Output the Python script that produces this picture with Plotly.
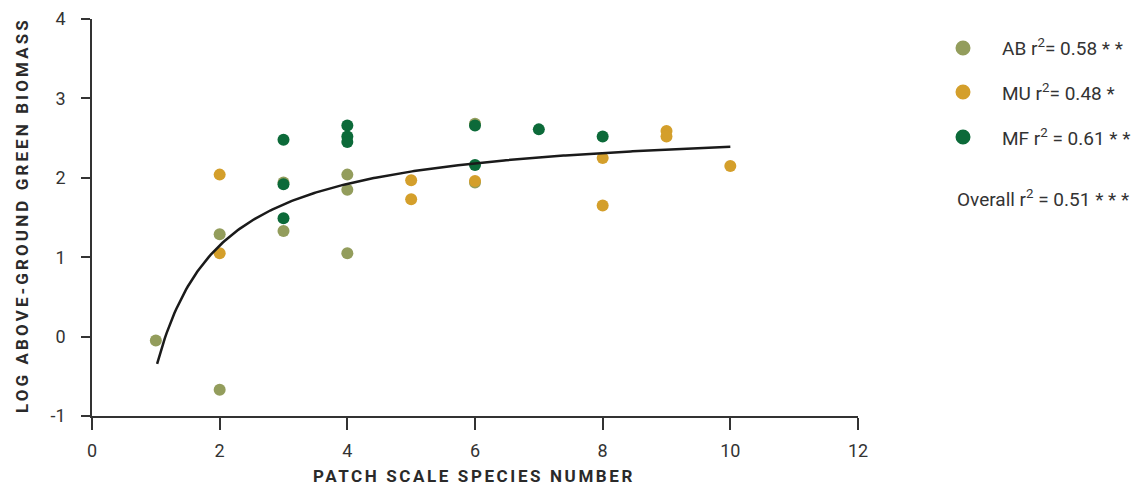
import numpy as np
import plotly.graph_objects as go

# ---- data ----
AB_x = [1, 2, 2, 3, 3, 4, 4, 4, 6, 6]
AB_y = [-0.05, 1.29, -0.67, 1.94, 1.33, 2.04, 1.85, 1.05, 2.68, 1.94]

MU_x = [2, 2, 5, 5, 6, 8, 8, 9, 9, 10]
MU_y = [2.04, 1.05, 1.97, 1.73, 1.96, 2.25, 1.65, 2.59, 2.52, 2.15]

MF_x = [3, 3, 3, 4, 4, 4, 6, 6, 7, 8]
MF_y = [2.48, 1.92, 1.49, 2.66, 2.52, 2.45, 2.66, 2.16, 2.61, 2.52]

# overall fitted curve  y = a - b / x  (coefficients read from the drawn fit)
FIT_A = 2.70
FIT_B = 3.105
FIT_XMIN, FIT_XMAX = 1.02, 10.0

SERIES = ["AB", "MU", "MF"]
R2_LABELS = ["AB r<sup>2</sup>= 0.58 * *", "MU r<sup>2</sup>= 0.48 *", "MF r<sup>2</sup> = 0.61 * *"]
OVERALL_LABEL = "Overall r<sup>2</sup> = 0.51 * * *"

X_TICKS = [0, 2, 4, 6, 8, 10, 12]
X_TICK_LABELS = ["0", "2", "4", "6", "8", "10", "12"]
Y_TICKS = [-1, 0, 1, 2, 3, 4]
Y_TICK_LABELS = ["-1", "0", "1", "2", "3", "4"]

COLORS = {"AB": "#939d5c", "MU": "#d49f2b", "MF": "#0c6a39"}

FONT = "Roboto, 'Open Sans', sans-serif"
TXT = "#333333"

fig = go.Figure()
for name, xs, ys in [("AB", AB_x, AB_y), ("MU", MU_x, MU_y), ("MF", MF_x, MF_y)]:
    fig.add_trace(go.Scatter(x=xs, y=ys, mode="markers", name=name,
                             marker=dict(size=12, color=COLORS[name], line=dict(width=0)),
                             showlegend=False))

fx = np.linspace(FIT_XMIN, FIT_XMAX, 300)
fy = FIT_A - FIT_B / fx
fig.add_trace(go.Scatter(x=fx, y=fy, mode="lines", name="Overall fit",
                         line=dict(color="#1a1a1a", width=2.5), showlegend=False))

# plot area in pixels
L, R, T, B = 92, 858, 19, 416
W, H = 1136, 485

def px(xp):
    return (xp - L) / (R - L)

def py(yp):
    return (B - yp) / (B - T)

fig.update_layout(
    width=W, height=H,
    margin=dict(l=L, r=W - R, t=T, b=H - B, pad=0),
    plot_bgcolor="white", paper_bgcolor="white",
    font=dict(family=FONT, color=TXT, size=17),
    xaxis=dict(range=[0, 12], tickvals=X_TICKS, ticktext=X_TICK_LABELS,
               showgrid=False, zeroline=False,
               showline=True, linecolor="#333333", linewidth=1.5, automargin=False,
               ticks="outside", ticklen=12, tickwidth=1.5, tickcolor="#333333",
               tickfont=dict(size=18, color=TXT, family=FONT), ticklabelstandoff=6),
    yaxis=dict(range=[-1, 4], tickvals=Y_TICKS, ticktext=Y_TICK_LABELS,
               showgrid=False, zeroline=False,
               showline=True, linecolor="#333333", linewidth=1.5, automargin=False,
               ticks="outside", ticklen=9, tickwidth=1.5, tickcolor="#333333",
               tickfont=dict(size=18, color=TXT, family=FONT), ticklabelstandoff=12),
)

annotations = [
    dict(text="<span style='letter-spacing:2.6px'><b>PATCH SCALE SPECIES NUMBER</b></span>",
         xref="paper", yref="paper", x=px(474), y=py(476), xanchor="center", yanchor="middle",
         showarrow=False, borderpad=0, font=dict(size=17, color="#2a2a2a", family=FONT)),
    dict(text="<span style='letter-spacing:3.1px'><b>LOG ABOVE-GROUND GREEN BIOMASS</b></span>",
         xref="paper", yref="paper", x=px(22), y=py(215), xanchor="center", yanchor="middle",
         textangle=-90, showarrow=False, borderpad=0, font=dict(size=17, color="#2a2a2a", family=FONT)),
]

legend_y = [48, 92, 137]
shapes = []
for name, label, yy in zip(SERIES, R2_LABELS, legend_y):
    shapes.append(dict(type="circle", xref="paper", yref="paper",
                       xsizemode="pixel", ysizemode="pixel",
                       xanchor=px(963), yanchor=py(yy), x0=-7.5, x1=7.5, y0=-7.5, y1=7.5,
                       fillcolor=COLORS[name], line=dict(width=0)))
    annotations.append(dict(text=label, xref="paper", yref="paper", x=px(1000), y=py(yy),
                            xanchor="left", yanchor="middle", showarrow=False,
                            font=dict(size=19, color=TXT, family=FONT)))
annotations.append(dict(text=OVERALL_LABEL, xref="paper", yref="paper", x=px(955), y=py(198),
                        xanchor="left", yanchor="middle", showarrow=False,
                        font=dict(size=19, color=TXT, family=FONT)))

fig.update_layout(annotations=annotations, shapes=shapes)
fig.write_html("out.html", config={"displayModeBar": False},
               post_script="document.body.style.margin='0';document.body.style.overflow='hidden';")
